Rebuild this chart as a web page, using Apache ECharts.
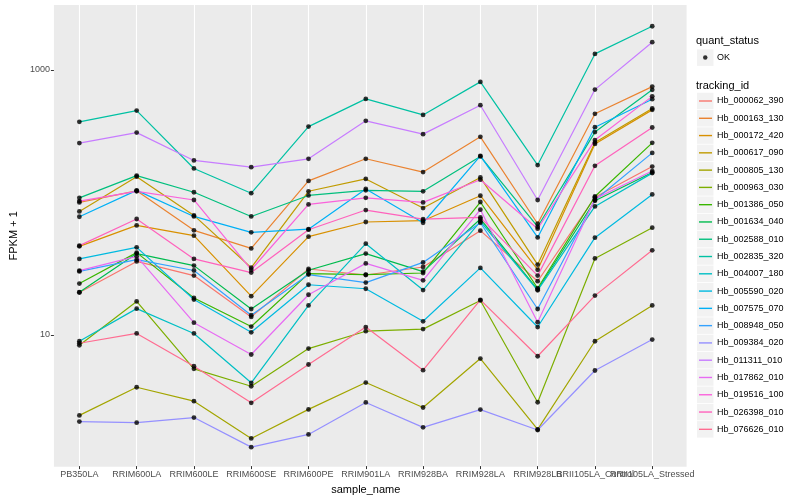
<!DOCTYPE html>
<html>
<head>
<meta charset="utf-8">
<script src="https://cdn.jsdelivr.net/npm/echarts@6/dist/echarts.min.js"></script>
<style>html,body{margin:0;padding:0;background:#fff}#c{width:800px;height:500px}</style>
</head>
<body>
<div id="c"></div>
<script>
const categories = ['PB350LA','RRIM600LA','RRIM600LE','RRIM600SE','RRIM600PE','RRIM901LA','RRIM928BA','RRIM928LA','RRIM928LB','RRII105LA_Control','RRII105LA_Stressed'];
const yTickLabels = [10, 1000];

const Hb_000062_390 = [20.8, 35.7, 27.9, 13.6, 31.3, 28.2, 32.4, 61.0, 25.3, 109, 186];
const Hb_000163_130 = [99.7, 122, 61.3, 44.8, 145, 213, 169, 312, 68.8, 466, 748];
const Hb_000172_420 = [46.4, 66.8, 55.9, 19.5, 54.9, 70.9, 72.5, 112, 30.9, 276, 499];
const Hb_000617_090 = [85.2, 156, 79.5, 32.0, 121, 150, 90.4, 154, 33.8, 283, 511];
const Hb_000805_130 = [2.45, 4.00, 3.14, 1.64, 2.72, 4.34, 2.81, 6.59, 1.92, 8.90, 16.6];
const Hb_000963_030 = [8.30, 17.8, 5.51, 4.07, 7.84, 10.6, 11.0, 18.1, 3.08, 37.6, 64.2];
const Hb_001386_050 = [24.3, 41.6, 18.9, 11.5, 28.9, 28.4, 29.2, 100.4, 22.4, 110.6, 281];
const Hb_001634_040 = [20.9, 40.9, 33.2, 15.6, 30.6, 40.9, 29.9, 74.7, 21.9, 102.6, 168];
const Hb_002588_010 = [108, 159, 119, 78.1, 112.5, 123, 121, 222, 65.3, 339, 707];
const Hb_002835_320 = [405, 493, 180, 117, 373, 604, 457, 812, 191, 1321, 2137];
const Hb_004007_180 = [8.90, 15.7, 10.2, 4.32, 16.6, 48.6, 21.7, 71.6, 21.6, 93.0, 166];
const Hb_005590_020 = [37.3, 45.6, 18.4, 10.4, 23.8, 22.2, 12.6, 31.9, 11.4, 54.0, 114.5];
const Hb_007575_070 = [77.7, 123, 78.1, 59.2, 62.6, 126, 70, 224, 54.2, 369, 601];
const Hb_008948_050 = [30.0, 36.8, 30.5, 14.0, 28.4, 24.7, 35.1, 70, 15.6, 104, 236];
const Hb_009384_020 = [2.20, 2.16, 2.36, 1.41, 1.76, 3.07, 1.99, 2.71, 1.90, 5.35, 9.17];
const Hb_011311_010 = [280, 336, 207, 184, 213, 412, 327, 541, 104, 710, 1619];
const Hb_017862_010 = [30.4, 39.0, 12.3, 7.07, 20.0, 34.5, 25.7, 87.8, 12.4, 106, 172];
const Hb_019516_100 = [102, 121, 104, 30.9, 96.2, 108, 99.7, 148, 63.1, 295, 631];
const Hb_026398_010 = [47.0, 74.7, 37.3, 29.4, 62, 87.3, 74.5, 76.8, 27.9, 188.5, 367];
const Hb_076626_010 = [8.60, 10.2, 5.77, 3.05, 5.94, 11.4, 5.38, 18.3, 6.86, 19.7, 43.3];

const trackingIds = ['Hb_000062_390','Hb_000163_130','Hb_000172_420','Hb_000617_090','Hb_000805_130','Hb_000963_030','Hb_001386_050','Hb_001634_040','Hb_002588_010','Hb_002835_320','Hb_004007_180','Hb_005590_020','Hb_007575_070','Hb_008948_050','Hb_009384_020','Hb_011311_010','Hb_017862_010','Hb_019516_100','Hb_026398_010','Hb_076626_010'];
const seriesValues = [Hb_000062_390,Hb_000163_130,Hb_000172_420,Hb_000617_090,Hb_000805_130,Hb_000963_030,Hb_001386_050,Hb_001634_040,Hb_002588_010,Hb_002835_320,Hb_004007_180,Hb_005590_020,Hb_007575_070,Hb_008948_050,Hb_009384_020,Hb_011311_010,Hb_017862_010,Hb_019516_100,Hb_026398_010,Hb_076626_010];

const palette = ['#F8766D','#EA8331','#D89000','#C09B00','#A3A500','#7CAE00','#39B600','#00BB4E','#00BF7D','#00C1A3','#00BFC4','#00BAE0','#00B0F6','#35A2FF','#9590FF','#C77CFF','#E76BF3','#FA62DB','#FF62BC','#FF6C91'];

const FONT = '"Liberation Sans", Arial, Helvetica, sans-serif';
const chart = echarts.init(document.getElementById('c'), null, {renderer: 'canvas'});

const series = trackingIds.map((id, i) => ({
  type: 'line', name: id, xAxisIndex: 1, yAxisIndex: 1,
  data: seriesValues[i], symbol: 'none', showSymbol: false,
  lineStyle: {color: palette[i], width: 1.2}, itemStyle: {color: palette[i]},
  z: 2, silent: true, animation: false
}));
const points = [];
seriesValues.forEach(arr => arr.forEach((v, j) => points.push([categories[j], v])));
series.push({
  type: 'scatter', name: 'OK', xAxisIndex: 1, yAxisIndex: 1, data: points,
  symbol: 'circle', symbolSize: 4.8, itemStyle: {color: '#000'}, z: 3, silent: true, animation: false
});

const keyStep = 17.28, keyTop = 92.36;
const graphics = [
  {type: 'text', left: 696, top: 35, style: {text: 'quant_status', fontSize: 11, fontFamily: FONT, fill: '#000'}},
  {type: 'text', left: 696, top: 80, style: {text: 'tracking_id', fontSize: 11, fontFamily: FONT, fill: '#000'}},
  {type: 'rect', shape: {x: 697, y: 49.4, width: 16.5, height: 16.5}, style: {fill: '#F2F2F2'}, z: 0}
];
trackingIds.forEach((id, i) => graphics.push({
  type: 'rect', shape: {x: 697, y: keyTop + i * keyStep + 0.4, width: 16.5, height: 16.5}, style: {fill: '#F2F2F2'}, z: 0
}));

const option = {
  animation: false,
  backgroundColor: '#fff',
  textStyle: {fontFamily: FONT},
  grid: [
    {left: 45, right: 113.4, top: 5, bottom: 33.3, show: true, backgroundColor: '#EBEBEB', borderWidth: 0, containLabel: false},
    {left: 50.73, right: 119.13, top: 5, bottom: 33.3, containLabel: false}
  ],
  xAxis: [
    {gridIndex: 0, type: 'category', data: categories, show: false},
    {gridIndex: 1, type: 'category', data: categories, boundaryGap: true,
     axisLine: {show: false},
     axisTick: {show: true, alignWithLabel: true, length: 3, lineStyle: {color: '#333', width: 1}},
     axisLabel: {interval: 0, fontSize: 9, color: '#4D4D4D', margin: 4, fontFamily: FONT},
     splitLine: {show: true, alignWithLabel: true, lineStyle: {color: '#fff', width: 1.1}},
     name: 'sample_name', nameLocation: 'middle', nameGap: 14,
     nameTextStyle: {fontSize: 11, color: '#000', fontFamily: FONT}}
  ],
  yAxis: [
    {gridIndex: 0, type: 'log', logBase: 10, min: 1.014, max: 3094,
     axisLine: {show: false},
     axisTick: {show: true, customValues: yTickLabels, length: 3, lineStyle: {color: '#333', width: 1}},
     axisLabel: {customValues: yTickLabels, fontSize: 9, color: '#4D4D4D', margin: 4, fontFamily: FONT,
                 formatter: v => String(Math.round(v))},
     splitLine: {show: true, showMinLine: false, showMaxLine: false, lineStyle: {color: '#fff', width: 1.1}},
     name: 'FPKM + 1', nameLocation: 'middle', nameGap: 28, nameRotate: 90,
     nameTextStyle: {fontSize: 11, color: '#000', fontFamily: FONT}},
    {gridIndex: 1, type: 'log', logBase: 10, min: 1.014, max: 3094, show: false}
  ],
  legend: [
    {data: ['OK'], orient: 'vertical', left: 703, top: 48.96, padding: 0, itemGap: 0,
     icon: 'circle', itemWidth: 4.5, itemHeight: 4.5, selectedMode: false,
     textStyle: {fontSize: 9, color: '#000', lineHeight: 17.28, padding: [0, 0, 0, 4.5], fontFamily: FONT}},
    {data: trackingIds, orient: 'vertical', left: 699, top: keyTop, padding: 0, itemGap: 0,
     icon: 'rect', itemWidth: 13, itemHeight: 1.4, selectedMode: false,
     textStyle: {fontSize: 9, color: '#000', lineHeight: 17.28, fontFamily: FONT}}
  ],
  graphic: graphics,
  series: series
};
chart.setOption(option);
</script>
</body>
</html>
